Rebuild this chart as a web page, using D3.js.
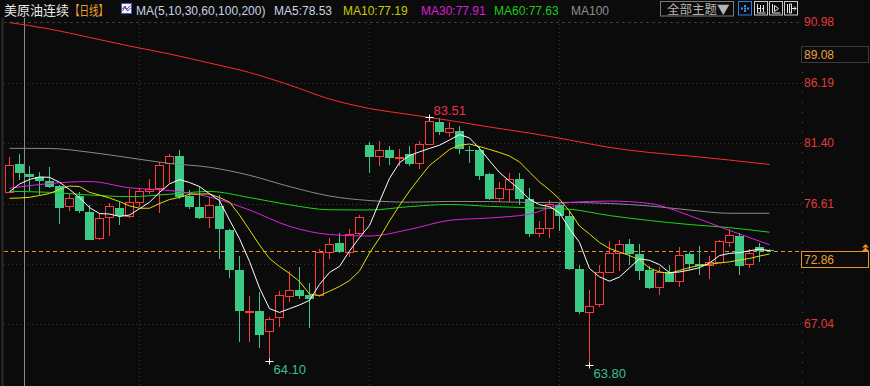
<!DOCTYPE html>
<html>
<head>
<meta charset="utf-8">
<script src="https://cdn.jsdelivr.net/npm/d3@7"></script>
<style>
  html, body { margin: 0; padding: 0; background: #0b0b0b; overflow: hidden; }
  svg { display: block; }
</style>
</head>
<body>
<div id="chart"></div>
<script>
// daily candles (oldest first)
const opens = [77.55,79.73,78.94,78.68,78.37,78.00,76.38,77.25,75.94,73.85,
  75.51,76.26,75.66,76.70,77.63,77.82,79.81,80.37,77.21,76.34,
  75.51,76.42,74.52,71.34,68.05,68.09,66.53,67.65,69.32,69.76,
  69.36,69.40,72.75,73.49,72.81,74.25,81.26,80.42,80.86,80.24,
  80.52,79.80,81.31,83.07,82.31,82.37,80.88,80.82,78.95,77.05,
  77.77,78.55,76.97,74.30,74.71,76.50,75.62,71.42,68.04,68.63,
  71.21,72.71,73.41,72.61,71.34,69.97,71.16,70.49,72.59,71.82,
  71.76,71.94,73.59,74.05,71.80,73.14,72.90];
const highs = [80.31,80.53,79.57,79.08,79.48,78.08,77.34,77.55,76.48,75.90,
  76.64,76.70,77.79,77.87,78.55,79.89,80.53,80.86,77.69,77.95,
  77.15,77.29,74.60,72.45,69.28,69.60,67.62,69.68,71.26,71.56,
  70.29,72.99,73.86,74.26,74.63,75.71,81.52,81.54,81.18,80.91,
  81.18,81.56,83.51,83.38,83.04,82.77,81.15,81.12,79.06,78.32,
  79.07,79.06,77.82,75.22,76.89,76.64,76.02,71.74,69.76,71.74,
  73.66,73.75,73.78,73.39,71.66,71.61,71.74,73.15,72.79,73.21,
  72.45,73.73,74.63,74.26,72.99,73.46,73.02];
const lows = [77.52,78.48,77.61,77.29,77.84,75.03,76.02,75.89,73.69,73.73,
  74.04,74.95,75.50,76.34,77.37,75.85,78.26,77.00,76.16,75.39,
  74.70,72.24,70.71,65.66,65.66,65.20,64.10,66.85,68.83,69.08,
  66.77,69.22,72.20,72.73,72.40,74.12,79.00,79.58,79.66,79.58,
  79.58,79.37,81.31,82.02,81.85,80.52,79.85,78.44,76.93,76.71,
  76.71,76.50,73.98,73.96,73.90,74.44,71.34,67.89,63.80,68.44,
  71.08,71.29,71.74,70.55,69.84,69.36,70.41,70.02,71.34,70.97,
  70.63,71.94,73.14,70.94,71.48,72.01,72.80];
const closes = [79.63,79.05,78.68,78.42,77.92,76.28,77.03,76.04,73.73,75.45,
  76.40,75.62,76.72,77.59,77.74,79.64,80.35,77.14,76.36,75.50,
  76.48,74.60,71.34,68.12,68.13,66.19,67.44,69.33,69.73,69.30,
  69.08,72.77,73.38,72.75,74.18,75.54,80.34,80.82,80.22,80.30,
  79.78,81.34,83.16,82.29,82.58,80.90,80.84,78.82,76.97,77.82,
  78.55,76.97,74.20,74.65,76.56,75.64,71.44,68.02,68.49,71.16,
  72.67,73.38,72.61,71.29,69.94,71.18,70.41,72.51,71.81,71.68,
  71.96,73.65,74.12,71.69,72.67,72.87,72.86];

// moving averages as drawn (fast ones per candle)
const ma5 = [77.55,78.16,78.52,78.72,78.69,78.30,77.73,77.08,76.29,75.82,
  75.78,75.59,75.70,76.20,76.72,77.50,78.17,78.51,78.28,77.96,
  77.39,76.84,75.31,73.83,72.02,69.92,68.28,67.98,68.28,68.57,
  68.94,70.20,71.15,71.63,72.85,73.92,74.87,76.76,78.61,79.85,
  80.42,80.71,80.98,81.24,81.65,82.08,81.81,80.98,80.00,79.07,
  78.39,77.73,76.95,76.52,76.37,75.88,74.61,73.53,71.46,70.80,
  70.46,70.79,71.52,72.23,72.11,71.77,71.13,71.19,71.34,71.53,
  71.90,72.49,72.66,72.72,72.87,73.00,72.88];
const ma10 = [77.03,77.05,77.11,77.25,77.41,77.73,78.00,77.96,77.50,77.29,
  77.05,76.77,76.43,76.24,76.24,76.61,76.93,77.10,77.35,77.37,
  77.37,77.09,76.73,75.70,74.52,73.33,72.26,71.62,71.07,70.43,
  69.44,69.32,69.66,70.04,70.51,71.27,72.69,73.88,75.23,76.46,
  77.61,78.64,79.63,80.26,80.90,81.24,81.33,81.13,80.90,80.66,
  80.38,79.91,79.11,78.32,77.69,76.97,76.02,74.83,74.20,73.52,
  73.05,72.77,72.49,72.14,71.50,71.19,71.08,71.31,71.54,71.70,
  71.80,71.90,71.99,72.14,72.26,72.45,72.61];

// slow averages, read every 4th candle
const maSampleDays = [0,4,8,12,16,20,24,28,32,36,40,44,48,52,56,60,64,68,72,76];
const ma30 = [77.82,78.20,78.36,77.86,77.65,77.13,76.10,74.81,74.16,74.04,74.56,75.28,75.47,75.78,76.70,76.81,76.62,75.66,74.48,73.35];
const ma60 = [77.58,77.50,77.29,77.16,77.35,77.57,77.09,76.51,76.12,76.10,76.37,76.54,76.39,76.28,76.16,75.66,75.27,74.95,74.70,74.34];
const ma100 = [80.99,80.98,80.68,80.24,79.79,79.49,78.85,77.96,77.21,76.85,76.72,76.78,76.77,76.70,76.70,76.62,76.42,76.10,75.84,75.84];
const ma200 = [90.96,90.45,89.78,89.10,88.47,87.75,87.00,86.01,84.90,84.15,83.67,83.20,82.68,82.20,81.65,81.06,80.66,80.38,80.06,79.71];

const yTicks = [90.98, 86.19, 81.40, 76.61, 71.82, 67.04];
const monthStarts = [13, 36, 55];
const markedExtremes = [42, 26, 58];   // candles with high / low labels
const refPrice = 89.08;
const legendItems = ["MA(5,10,30,60,100,200)", "MA5:78.53", "MA10:77.19", "MA30:77.91", "MA60:77.63", "MA100"];

const W = 870, H = 386;
const BG = "#0b0b0b";
const UP = "#ff3a3a", DOWN = "#3cc985";
const latin = "'Liberation Sans', Arial, sans-serif";
const cjk = "'Noto Sans CJK SC', 'Noto Sans', sans-serif";

const svg = d3.select("#chart").append("svg")
    .attr("width", W)
    .attr("height", H);

svg.append("rect").attr("width", W).attr("height", H).attr("fill", BG);

// scales
const days = d3.range(closes.length);
const x = d3.scaleBand()
    .domain(days)
    .range([4.5, 774.5])
    .paddingInner(0.2)
    .paddingOuter(0.1);
const y = d3.scaleLinear()
    .domain([67.04, 90.98])
    .range([324.3, 22.3]);

const cx = i => Math.floor(x(i) + x.bandwidth() / 2) + 0.5;
const py = v => Math.round(y(v)) + 0.5;
const last = closes[closes.length - 1];

// left frame line
svg.append("line")
    .attr("x1", 2.5).attr("x2", 2.5).attr("y1", 18).attr("y2", H)
    .attr("stroke", "#2c2c2c").attr("stroke-width", 2);

// grid
const grid = svg.append("g");
grid.selectAll("line.h")
    .data(yTicks)
    .enter().append("line")
    .attr("x1", 4).attr("x2", 801)
    .attr("y1", d => py(d)).attr("y2", d => py(d))
    .attr("stroke", (d, i) => i === 0 ? "#3a3a3a" : "#363636")
    .attr("stroke-dasharray", (d, i) => i === 0 ? "3,3" : "1,3");

grid.selectAll("line.v")
    .data(monthStarts)
    .enter().append("line")
    .attr("x1", d => cx(d)).attr("x2", d => cx(d))
    .attr("y1", 20).attr("y2", H)
    .attr("stroke", "#363636")
    .attr("stroke-dasharray", "1,3");

// right axis border
svg.append("line")
    .attr("x1", 802.5).attr("x2", 802.5).attr("y1", 62).attr("y2", H)
    .attr("stroke", "#4a4a4a").attr("stroke-dasharray", "1,9");

// crosshair line
svg.append("line")
    .attr("x1", 24.5).attr("x2", 24.5).attr("y1", 18).attr("y2", H)
    .attr("stroke", "#8a8a8a");

// current price dashed line
svg.append("line")
    .attr("x1", 4).attr("x2", 801)
    .attr("y1", py(last)).attr("y2", py(last))
    .attr("stroke", "#e8922e")
    .attr("stroke-dasharray", "4,3");

// candles
const candles = svg.append("g");
days.forEach(i => {
    const o = opens[i], c = closes[i], h = highs[i], l = lows[i];
    const xc = cx(i);
    const left = Math.floor(x(i));
    if (c >= o) {
        const top = Math.round(y(c)), bot = Math.round(y(o));
        candles.append("line")
            .attr("x1", xc).attr("x2", xc)
            .attr("y1", Math.round(y(h))).attr("y2", top)
            .attr("stroke", UP);
        candles.append("line")
            .attr("x1", xc).attr("x2", xc)
            .attr("y1", bot).attr("y2", Math.round(y(l)))
            .attr("stroke", UP);
        candles.append("rect")
            .attr("x", left + 0.5).attr("y", top + 0.5)
            .attr("width", 8).attr("height", Math.max(0, bot - top))
            .attr("fill", BG).attr("stroke", UP);
    } else {
        const top = Math.round(y(o)), bot = Math.round(y(c));
        candles.append("line")
            .attr("x1", xc).attr("x2", xc)
            .attr("y1", Math.round(y(h))).attr("y2", Math.round(y(l)))
            .attr("stroke", DOWN);
        candles.append("rect")
            .attr("x", left).attr("y", top)
            .attr("width", 9).attr("height", Math.max(1, bot - top))
            .attr("fill", DOWN);
    }
});

// moving average lines
const fastLine = d3.line()
    .x((d, i) => cx(i))
    .y(d => y(d));
const slowLine = d3.line()
    .x((d, i) => cx(maSampleDays[i]))
    .y(d => y(d))
    .curve(d3.curveMonotoneX);

const maLayer = svg.append("g").attr("fill", "none").attr("stroke-width", 1);
maLayer.append("path").attr("d", slowLine(ma200)).attr("stroke", "#ff2a2a");
maLayer.append("path").attr("d", slowLine(ma100)).attr("stroke", "#8a8a8a");
maLayer.append("path").attr("d", slowLine(ma60)).attr("stroke", "#18d818");
maLayer.append("path").attr("d", slowLine(ma30)).attr("stroke", "#e020e0");
maLayer.append("path").attr("d", fastLine(ma10)).attr("stroke", "#e0e000");
maLayer.append("path").attr("d", fastLine(ma5)).attr("stroke", "#ffffff");

// extreme markers
const marks = svg.append("g").attr("font-family", latin).attr("font-size", 13);
markedExtremes.forEach(i => {
    const isHigh = highs[i] === d3.max(highs);
    const v = isHigh ? highs[i] : lows[i];
    const yy = Math.round(y(v)) + 0.5;
    const xc = cx(i);
    marks.append("path")
        .attr("d", `M${xc - 4},${yy}H${xc + 4}M${xc},${yy - 3}V${yy + 3}`)
        .attr("stroke", "#ffffff");
    marks.append("text")
        .attr("x", xc + 4)
        .attr("y", isHigh ? yy - 2.5 : yy + 12.5)
        .attr("fill", isHigh ? "#e8344a" : "#3cbf8a")
        .text(v.toFixed(2));
});

// right axis labels (the one under the last-price box is hidden, as in the app)
const axis = svg.append("g").attr("font-family", latin).attr("font-size", 12);
axis.selectAll("text")
    .data(yTicks.filter(d => Math.abs(y(d) - y(last) - 8) > 12))
    .enter().append("text")
    .attr("x", 804)
    .attr("y", d => y(d))
    .attr("dominant-baseline", "central")
    .attr("fill", "#e23a3a")
    .text(d => d.toFixed(2));

function priceBox(v, border) {
    const top = Math.round(y(v)) + 0.5;
    axis.append("rect")
        .attr("x", 801.5).attr("y", top)
        .attr("width", 67).attr("height", 16)
        .attr("fill", BG).attr("stroke", border);
    axis.append("text")
        .attr("x", 804).attr("y", top + 8.5)
        .attr("dominant-baseline", "central")
        .attr("fill", "#e8a03a")
        .text(v.toFixed(2));
}
priceBox(refPrice, "#3c3c3c");
priceBox(last, "#e8922e");

// up-arrows above the last price box
const ay = Math.round(y(last));
axis.append("path")
    .attr("d", `M865.5,${ay - 7}L862,${ay - 3.5}H869Z M865.5,${ay - 3.5}L862,${ay}H869Z`)
    .attr("fill", "#e8922e");

// header
const head = svg.append("g");
head.append("text").attr("x", 4).attr("y", 14.5)
    .attr("font-family", cjk).attr("font-size", 13).attr("fill", "#e8e8e8")
    .text("美原油连续");
head.append("text").attr("x", 70).attr("y", 14.5)
    .attr("font-family", cjk).attr("font-size", 13).attr("fill", "#f0a030")
    .text("【日线】")
    .attr("textLength", 38)
    .attr("lengthAdjust", "spacingAndGlyphs");

// small chart icon
head.append("rect").attr("x", 121.5).attr("y", 3.5).attr("width", 10).attr("height", 10)
    .attr("fill", "#f4f4f4").attr("stroke", "#3a5fcd");
head.append("polyline").attr("points", "122.5,11 124.5,7.5 126.5,9.5 130.5,5.5")
    .attr("fill", "none").attr("stroke", "#e02020");
head.append("polyline").attr("points", "122.5,9 125,6 127.5,11 130.5,8")
    .attr("fill", "none").attr("stroke", "#2040c0");

const legendX = [136, 274, 343, 421, 494, 571];
const legendColor = ["#c9d3e3", "#c9d3e3", "#cccc00", "#d81ed8", "#1ec81e", "#8f8f8f"];
head.selectAll("text.legend")
    .data(legendItems)
    .enter().append("text")
    .attr("x", (d, i) => legendX[i])
    .attr("y", 14.5)
    .attr("font-family", latin)
    .attr("font-size", 12)
    .attr("fill", (d, i) => legendColor[i])
    .text(d => d);

// theme button
head.append("rect").attr("x", 660.5).attr("y", 1.5).attr("width", 73).attr("height", 14.5)
    .attr("fill", "none").attr("stroke", "#7a7a7a");
head.append("text").attr("x", 667).attr("y", 13.5)
    .attr("font-family", cjk).attr("font-size", 12.5).attr("fill", "#b4b4b4")
    .text("全部主题▼");

// tool icons
const iconX = [738.5, 754.5, 769.5, 784.5];
iconX.forEach((ix, k) => {
    head.append("rect").attr("x", ix).attr("y", 1.5).attr("width", 13).attr("height", 13.5)
        .attr("fill", "none").attr("stroke", k === 0 ? "#2f7fe0" : "#c8c8c8");
});
head.append("path")
    .attr("d", "M744,5h2v2h-2zM744,10h2v2h-2zM741,7.5h2v2h-2zM747,7.5h2v2h-2zM744,7.5h2v2h-2z")
    .attr("fill", "#2f8fff");
head.append("path")
    .attr("d", "M757.5,4v9h8M757.5,8.5h3M760.5,5v7M763.5,5v7M762,8.5h2")
    .attr("fill", "none").attr("stroke", "#e8e8e8");
head.append("path")
    .attr("d", "M772.5,4v9h8M774.5,5.5v6l4,-3z")
    .attr("fill", "none").attr("stroke", "#e8e8e8");
head.append("path")
    .attr("d", "M787.5,4v9M789.5,4v9h2v-9zM792,8.5h4M794,6.5l2,2l-2,2")
    .attr("fill", "none").attr("stroke", "#e8e8e8");
</script>
</body>
</html>
